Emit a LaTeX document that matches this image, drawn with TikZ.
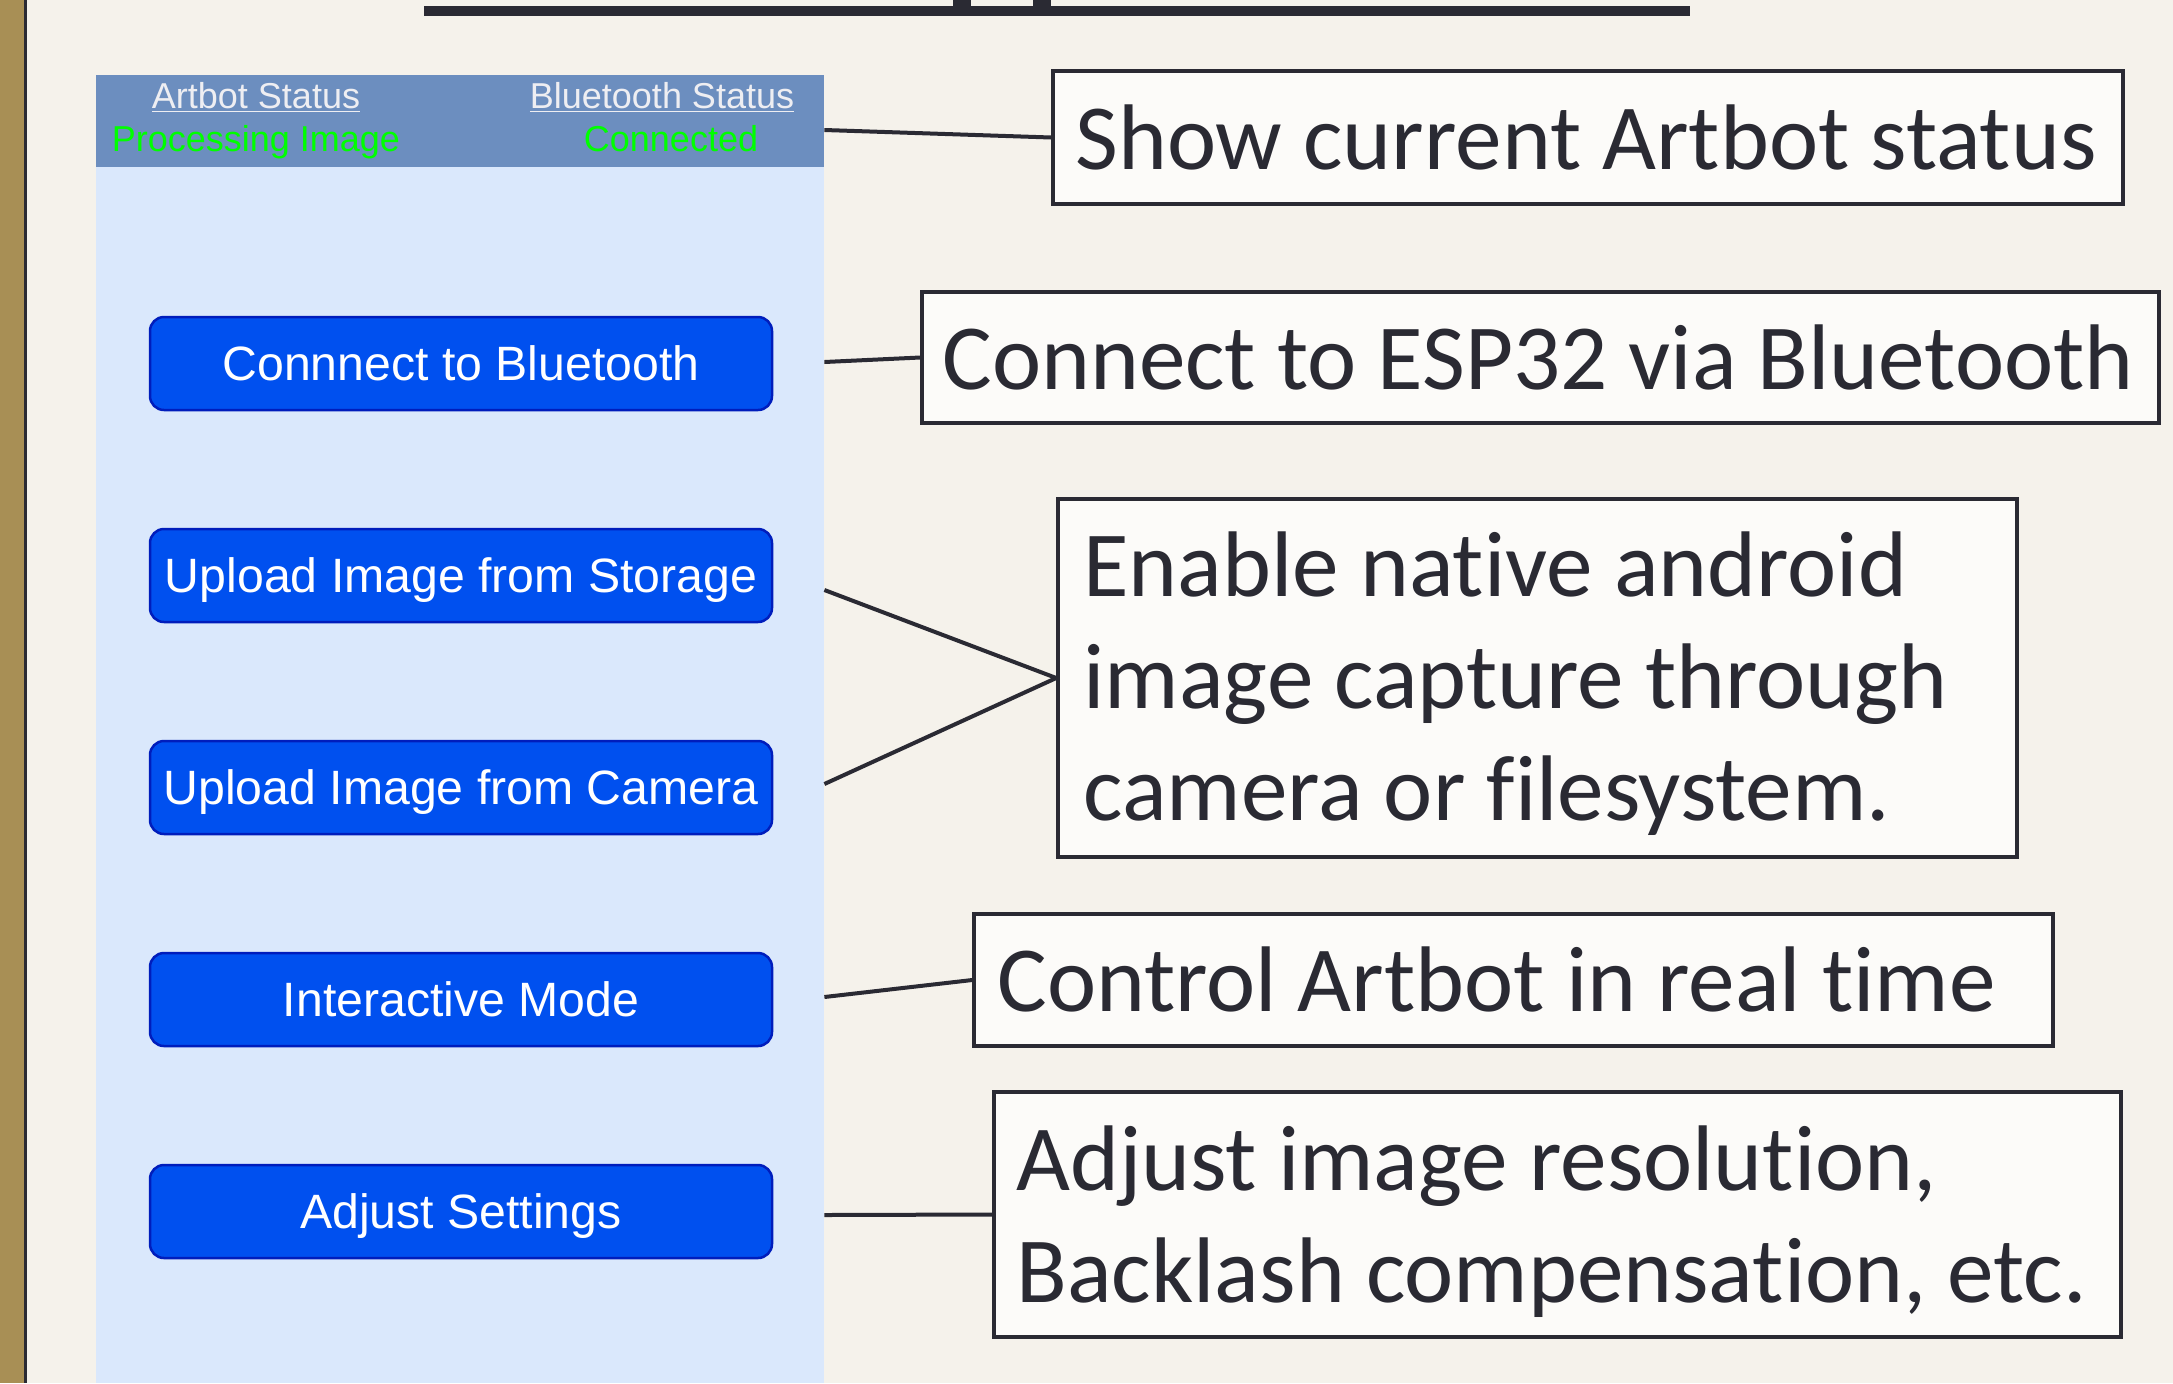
\documentclass[tikz,border=0pt]{standalone}
\usepackage{fontspec}
\setmainfont{Liberation Sans}
\newfontfamily\callfont[Ligatures=NoCommon]{Carlito}

\definecolor{bg}{HTML}{F5F2EB}
\definecolor{gold}{HTML}{A88F55}
\definecolor{ink}{HTML}{2A2A33}
\definecolor{hdrblue}{HTML}{6C8EBF}
\definecolor{panelblue}{HTML}{DAE8FC}
\definecolor{btnfill}{HTML}{0050EF}
\definecolor{btnedge}{HTML}{001DBC}
\definecolor{boxfill}{HTML}{FCFBF9}
\definecolor{okgreen}{HTML}{00FF00}
\definecolor{hdrtext}{HTML}{EEEEF2}

\usetikzlibrary{fit}

\begin{document}
\begin{tikzpicture}[x=0.5pt,y=-0.5pt,
  btn/.style={draw=btnedge, fill=btnfill, line width=1.25pt, rounded corners=7pt,
    inner sep=0pt, minimum width=311pt, minimum height=46.5pt,
    text=white, font=\fontsize{24.1}{28}\selectfont,
    text height=17.25pt, text depth=0pt},
  cbox/.style={draw=ink, fill=boxfill, line width=1.75pt, inner sep=0pt},
  ctext/.style={anchor=base west, inner sep=0pt, text=ink,
    font=\callfont\fontsize{46.6}{56}\selectfont},
  hlabel/.style={anchor=base, inner sep=0pt, text=hdrtext, font=\fontsize{18}{21}\selectfont},
  hvalue/.style={anchor=base, inner sep=0pt, text=okgreen, font=\fontsize{18}{21}\selectfont},
  link/.style={draw=ink, line width=2pt}]

\useasboundingbox (0,0) rectangle (2173,1383);
\fill[bg] (0,0) rectangle (2173,1383);

% left margin rule
\fill[gold] (0,0) rectangle (23.5,1383);
\fill[ink] (23.5,0) rectangle (26.5,1383);

% title rule
\fill[ink] (424,6) rectangle (1690,15.5);
\fill[ink] (953,0) rectangle (971,6);
\fill[ink] (1033,0) rectangle (1051,6);

% app screen
\node[fill=panelblue, inner sep=0pt, fit={(96,75) (824,1383)}] (panel) {};
\node[fill=hdrblue, inner sep=0pt, fit={(96,75) (824,167)}] (hdr) {};

\node[hlabel] (lab1) at (256,108) {\underline{Artbot Status}};
\node[hvalue] (val1) at (256,151) {Processing Image};
\node[hlabel] (lab2) at (662,108) {\underline{Bluetooth Status}};
\node[hvalue] (val2) at (671,151) {Connected};

% buttons
\node[btn] (b1) at (461,363.5) {Connnect to Bluetooth};
\node[btn] (b2) at (461,575.5) {Upload Image from Storage};
\node[btn] (b3) at (461,787.5) {Upload Image from Camera};
\node[btn] (b4) at (461,999.5) {Interactive Mode};
\node[btn] (b5) at (461,1211.5) {Adjust Settings};

% explanations
\node[cbox, fit={(1053,71) (2123,204)}] (c1) {};
\node[ctext] (c1t) at (1075,169) {Show current Artbot status};

\node[cbox, fit={(922,292) (2159,423)}] (c2) {};
\node[ctext] (c2t) at (942,389) {Connect to ESP32 via Bluetooth};

\node[cbox, fit={(1058,499) (2017,857)}] (c3) {};
\node[ctext] (c3a) at (1083,596) {Enable native android};
\node[ctext] (c3b) at (1083,708) {image capture through};
\node[ctext] (c3c) at (1083,820) {camera or filesystem.};

\node[cbox, fit={(974,914) (2053,1046)}] (c4) {};
\node[ctext] (c4t) at (997,1011) {Control Artbot in real time};

\node[cbox, fit={(994,1092) (2121,1337)}] (c5) {};
\node[ctext] (c5a) at (1016,1190) {Adjust image resolution,};
\node[ctext] (c5b) at (1016,1302) {Backlash compensation, etc.};

% connectors from the screen edge
\coordinate (s1) at (panel.east |- 0,130);
\coordinate (s2) at (panel.east |- 0,362);
\coordinate (s3) at (panel.east |- 0,590);
\coordinate (s4) at (panel.east |- 0,784);
\coordinate (s5) at (panel.east |- 0,997);
\coordinate (s6) at (panel.east |- 0,1215);

\draw[link] (s1) -- (c1.west);
\draw[link] (s2) -- (c2.west);
\draw[link] (s3) -- (c3.west);
\draw[link] (s4) -- (c3.west);
\draw[link] (s5) -- (c4.west);
\draw[link] (s6) -- (c5.west);
\end{tikzpicture}
\end{document}
